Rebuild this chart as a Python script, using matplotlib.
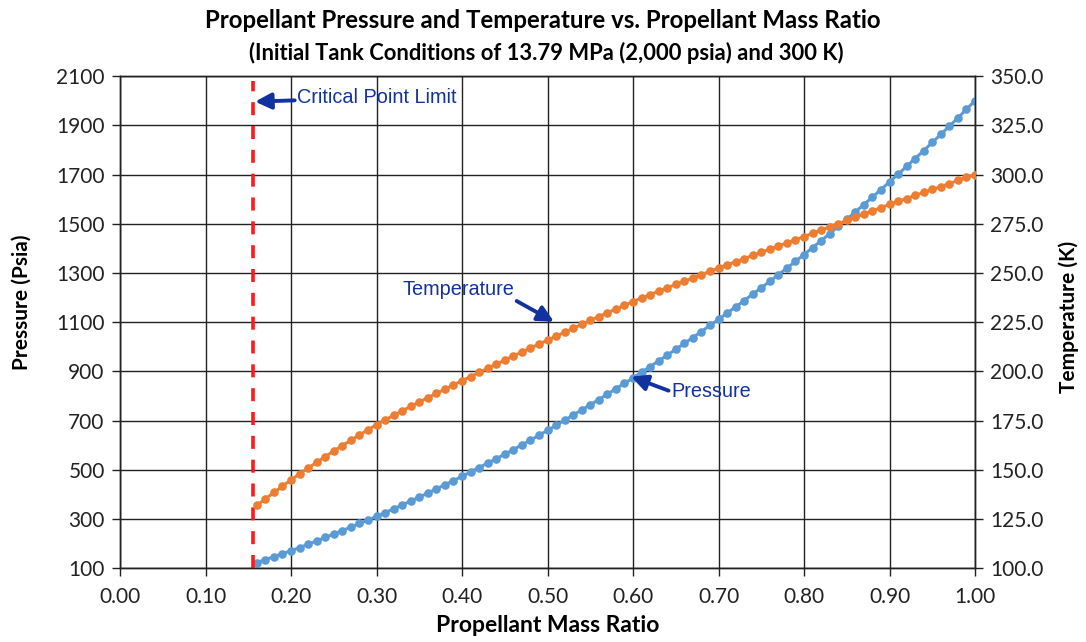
import matplotlib
matplotlib.use("Agg")
import matplotlib.pyplot as plt
from matplotlib import font_manager

# Propellant mass ratio samples (0.16 .. 1.00, step 0.01)
mass_ratio = [
    0.16, 0.17, 0.18, 0.19, 0.20, 0.21, 0.22, 0.23, 0.24, 0.25,
    0.26, 0.27, 0.28, 0.29, 0.30, 0.31, 0.32, 0.33, 0.34, 0.35,
    0.36, 0.37, 0.38, 0.39, 0.40, 0.41, 0.42, 0.43, 0.44, 0.45,
    0.46, 0.47, 0.48, 0.49, 0.50, 0.51, 0.52, 0.53, 0.54, 0.55,
    0.56, 0.57, 0.58, 0.59, 0.60, 0.61, 0.62, 0.63, 0.64, 0.65,
    0.66, 0.67, 0.68, 0.69, 0.70, 0.71, 0.72, 0.73, 0.74, 0.75,
    0.76, 0.77, 0.78, 0.79, 0.80, 0.81, 0.82, 0.83, 0.84, 0.85,
    0.86, 0.87, 0.88, 0.89, 0.90, 0.91, 0.92, 0.93, 0.94, 0.95,
    0.96, 0.97, 0.98, 0.99, 1.00,
]

# Tank pressure (psia)
pressure_psia = [
    124, 136, 148, 160, 172, 185, 198, 212, 226, 240,
    254, 268, 283, 297, 312, 327, 342, 358, 374, 390,
    406, 423, 440, 457, 474, 492, 510, 528, 546, 564,
    583, 602, 621, 641, 661, 681, 702, 723, 744, 765,
    786, 808, 830, 852, 874, 897, 920, 943, 966, 990,
    1014, 1038, 1062, 1087, 1112, 1137, 1162, 1188, 1214, 1240,
    1266, 1293, 1320, 1347, 1375, 1403, 1431, 1460, 1489, 1518,
    1548, 1578, 1608, 1639, 1670, 1701, 1733, 1765, 1797, 1830,
    1863, 1896, 1930, 1965, 2000,
]

# Propellant temperature (K)
temperature_k = [
    132.0, 135.3, 138.6, 141.8, 145.0, 148.0, 151.0, 153.9, 156.8, 159.6,
    162.4, 165.1, 167.8, 170.4, 173.0, 175.4, 177.7, 180.0, 182.3, 184.5,
    186.7, 188.9, 191.0, 193.2, 195.3, 197.4, 199.5, 201.6, 203.7, 205.8,
    207.9, 209.9, 211.9, 213.9, 215.9, 217.9, 219.9, 221.9, 223.9, 225.9,
    227.9, 229.8, 231.7, 233.6, 235.5, 237.3, 239.0, 240.8, 242.5, 244.2,
    245.9, 247.5, 249.2, 250.8, 252.5, 254.1, 255.7, 257.3, 258.9, 260.5,
    262.1, 263.7, 265.3, 266.9, 268.5, 270.1, 271.8, 273.4, 275.0, 276.7,
    278.3, 279.9, 281.6, 283.2, 284.8, 286.3, 287.8, 289.4, 290.9, 292.4,
    293.9, 295.4, 297.0, 298.5, 300.0,
]

# Critical point limit marker line
critical_x = [0.155, 0.155]
critical_p = [100, 2080]

x_ticks = [0.0, 0.1, 0.2, 0.3, 0.4, 0.5, 0.6, 0.7, 0.8, 0.9, 1.0]
p_ticks = [100, 300, 500, 700, 900, 1100, 1300, 1500, 1700, 1900, 2100]
t_ticks = [100, 125, 150, 175, 200, 225, 250, 275, 300, 325, 350]

available = {f.name for f in font_manager.fontManager.ttflist}
BODY = ["Lato", "DejaVu Sans"]
NOTE = (["Liberation Sans Narrow"] if "Liberation Sans Narrow" in available else []) + ["Liberation Sans", "DejaVu Sans"]

plt.rcParams["font.family"] = BODY

BLUE = "#5B9BD5"
ORANGE = "#ED7D31"
NAVY = "#1232A0"
GRID = "#222222"

fig = plt.figure(figsize=(10.86, 6.42), dpi=100)
ax = fig.add_axes([0.1105, 0.1145, 0.7873, 0.7671])
ax2 = ax.twinx()

ax.set_xlim(0, 1.0)
ax.set_ylim(100, 2100)
ax2.set_ylim(100, 350)

ax.set_xticks(x_ticks)
ax.set_xticklabels([f"{v:.2f}" for v in x_ticks])
ax.set_yticks(p_ticks)
ax.set_yticklabels([str(v) for v in p_ticks])
ax2.set_yticks(t_ticks)
ax2.set_yticklabels([f"{v:.1f}" for v in t_ticks])

ax.grid(True, color=GRID, linewidth=1.0)
ax.set_axisbelow(True)
for a in (ax, ax2):
    for s in a.spines.values():
        s.set_color(GRID)
        s.set_linewidth(1.0)
    a.tick_params(length=6, width=1.0, color=GRID, labelsize=15, labelcolor="#222222")
ax.tick_params(axis="x", pad=7)
ax.tick_params(axis="y", pad=5)
ax2.tick_params(axis="y", pad=5)

ax.plot(mass_ratio, pressure_psia, color=BLUE, lw=2.2, marker="o", ms=6.2,
        markeredgewidth=0, zorder=3)
ax2.plot(mass_ratio, temperature_k, color=ORANGE, lw=2.2, marker="o", ms=6.2,
         markeredgewidth=0, zorder=3)
ax.plot(critical_x, critical_p, color="#FF1A1A", lw=2.6,
        linestyle=(0, (3.6, 3.0)), zorder=4)

ax.set_xlabel("Propellant Mass Ratio", fontsize=16.5, fontweight="bold", labelpad=6)
ax.set_ylabel("Pressure (Psia)", fontsize=15, fontweight="bold")
ax2.set_ylabel("Temperature (K)", fontsize=15, fontweight="bold")
ax.yaxis.set_label_coords(-0.103, 0.541)
ax2.yaxis.set_label_coords(1.097, 0.51)

fig.text(0.5, 0.968, "Propellant Pressure and Temperature vs. Propellant Mass Ratio",
         ha="center", va="center", fontsize=17.3, fontweight="bold")
fig.text(0.503, 0.918, "(Initial Tank Conditions of 13.79 MPa (2,000 psia) and 300 K)",
         ha="center", va="center", fontsize=15.8, fontweight="bold")

arrow = dict(arrowstyle="-|>", color=NAVY, lw=2.8, mutation_scale=24,
             shrinkA=0, shrinkB=0)
ax.annotate("Critical Point Limit", xy=(0.158, 1996), xytext=(0.2075, 2012),
            ha="left", va="center", fontsize=14.3, color=NAVY, family=NOTE,
            arrowprops=arrow, zorder=6)
ax.annotate("Temperature", xy=(0.5076, 1102), xytext=(0.4607, 1231),
            ha="right", va="center", fontsize=14.3, color=NAVY, family=NOTE,
            arrowprops=dict(arrow, relpos=(1.0, 0.0)), zorder=6)
ax.annotate("Pressure", xy=(0.5979, 879), xytext=(0.6448, 818),
            ha="left", va="center", fontsize=14.3, color=NAVY, family=NOTE,
            arrowprops=dict(arrow, relpos=(0.0, 0.5)), zorder=6)

fig.savefig("out.png", dpi=100, facecolor="white")
